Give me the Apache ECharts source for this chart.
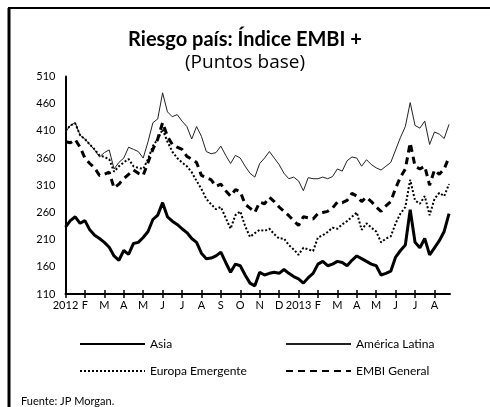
<!DOCTYPE html>
<html>
<head>
<meta charset="utf-8">
<script src="https://cdn.jsdelivr.net/npm/echarts@6/dist/echarts.min.js"></script>
<style>
  html, body { margin: 0; padding: 0; background: #fff; }
  #chart { width: 490px; height: 407px; }
</style>
</head>
<body>
<div id="chart"></div>
<script>
// etiquetas de meses (una por mes, desde ene 2012)
const monthLabels = ['2012', 'F', 'M', 'A', 'M', 'J', 'J', 'A', 'S', 'O', 'N', 'D',
  '2013', 'F', 'M', 'A', 'M', 'J', 'J', 'A']
const yTicks = [110, 160, 210, 260, 310, 360, 410, 460, 510]
// un punto cada cuarto de mes
const step = 0.25

const asia = [233, 245, 252, 240, 245, 228, 218, 212, 205, 196, 180, 172, 190, 183, 203, 205,
  214, 225, 247, 255, 278, 252, 244, 238, 230, 223, 212, 205, 185, 175, 176, 180,
  187, 168, 150, 165, 162, 145, 130, 125, 150, 145, 148, 150, 148, 155, 148, 142,
  138, 130, 140, 148, 165, 170, 162, 165, 170, 168, 162, 172, 180, 175, 170, 165,
  162, 145, 148, 152, 178, 190, 200, 265, 205, 195, 212, 182, 195, 208, 225, 258]

const americaLatina = [408, 420, 425, 402, 395, 385, 375, 362, 370, 375, 340, 352, 360, 380, 376, 372,
  360, 390, 425, 432, 480, 445, 436, 440, 428, 418, 395, 418, 400, 372, 368, 370,
  382, 365, 350, 365, 360, 345, 332, 325, 350, 360, 372, 360, 348, 332, 322, 325,
  318, 300, 324, 322, 322, 325, 322, 326, 340, 336, 355, 362, 360, 345, 357, 348,
  342, 338, 345, 352, 375, 398, 418, 462, 420, 415, 428, 385, 408, 404, 396, 422]

const europaEmergente = [410, 420, 424, 402, 395, 385, 376, 365, 362, 358, 335, 345, 352, 358, 345, 342,
  340, 358, 382, 395, 413, 390, 372, 360, 352, 345, 334, 318, 303, 285, 275, 266,
  270, 250, 230, 255, 262, 235, 215, 222, 228, 226, 230, 220, 212, 212, 200, 192,
  182, 195, 192, 189, 214, 218, 224, 232, 230, 238, 244, 252, 260, 228, 240, 232,
  225, 205, 212, 216, 240, 258, 270, 320, 282, 276, 290, 255, 285, 296, 290, 312]

const embiGeneral = [390, 388, 394, 380, 360, 350, 342, 328, 330, 334, 305, 312, 322, 330, 338, 332,
  328, 352, 376, 395, 425, 400, 385, 380, 376, 363, 358, 352, 328, 324, 320, 308,
  312, 300, 290, 302, 298, 275, 268, 260, 279, 276, 288, 280, 270, 262, 254, 245,
  236, 252, 250, 248, 258, 260, 262, 268, 279, 278, 282, 295, 290, 280, 288, 280,
  270, 262, 272, 280, 305, 325, 340, 388, 345, 340, 345, 310, 338, 330, 340, 362]

const toPoints = (arr) => arr.map((v, i) => [i * step, v])

const font = 'Lato'
const chart = echarts.init(document.getElementById('chart'))

const legendAt = (name, left, top) => ({
  data: [name],
  left: left,
  top: top,
  itemWidth: 65,
  itemHeight: 14,
  itemGap: 0,
  selectedMode: false,
  textStyle: { fontFamily: font, fontSize: 12, color: '#000' }
})

let option = {
  animation: false,
  backgroundColor: '#fff',
  title: [
    {
      text: 'Riesgo país: Índice EMBI +',
      left: 'center',
      top: 25,
      textStyle: { fontFamily: font, fontSize: 20, fontWeight: 'bold', color: '#000' }
    },
    {
      text: '(Puntos base)',
      left: 'center',
      top: 48,
      textStyle: { fontFamily: 'Open Sans', fontSize: 19, fontWeight: 'normal', color: '#000' }
    },
    {
      text: 'Fuente: JP Morgan.',
      left: 16,
      top: 391,
      textStyle: { fontFamily: font, fontSize: 11, fontWeight: 'normal', color: '#000' }
    }
  ],
  legend: [
    legendAt('Asia', 74, 333),
    legendAt('América Latina', 280, 333),
    legendAt('Europa Emergente', 74, 360),
    legendAt('EMBI General', 280, 360)
  ],
  grid: { left: 65.5, right: 40, top: 76.5, bottom: 113 },
  xAxis: [
    {
      type: 'value',
      min: 0,
      max: 19.8,
      axisLine: { lineStyle: { color: '#000', width: 2 } },
      axisTick: { length: 4, customValues: monthLabels.map((_, i) => i), lineStyle: { color: '#000', width: 1.5 } },
      axisLabel: {
        customValues: monthLabels.map((_, i) => i),
        formatter: (v) => monthLabels[Math.round(v)],
        fontFamily: font, fontSize: 11, color: '#000', margin: 6
      },
      splitLine: { show: false }
    },
    {
      type: 'value',
      min: 0,
      max: 19.8,
      position: 'bottom',
      axisLine: { show: false },
      axisTick: { inside: true, length: 4, customValues: monthLabels.map((_, i) => i), lineStyle: { color: '#000', width: 1.5 } },
      axisLabel: { show: false },
      splitLine: { show: false }
    }
  ],
  yAxis: {
    type: 'value',
    min: 110,
    max: 510,
    axisLine: { show: true, lineStyle: { color: '#000', width: 2 } },
    axisTick: { show: false },
    axisLabel: { customValues: yTicks, fontFamily: font, fontSize: 11, color: '#000', margin: 10 },
    splitLine: { show: false }
  },
  series: [
    {
      name: 'Asia',
      type: 'line',
      symbol: 'none',
      data: toPoints(asia),
      lineStyle: { color: '#000', width: 3 },
      itemStyle: { color: '#000', opacity: 0 }
    },
    {
      name: 'América Latina',
      type: 'line',
      symbol: 'none',
      data: toPoints(americaLatina),
      lineStyle: { color: '#222', width: 1 },
      itemStyle: { color: '#222', opacity: 0 }
    },
    {
      name: 'Europa Emergente',
      type: 'line',
      symbol: 'none',
      data: toPoints(europaEmergente),
      lineStyle: { color: '#000', width: 2, type: [2, 2] },
      itemStyle: { color: '#000', opacity: 0 }
    },
    {
      name: 'EMBI General',
      type: 'line',
      symbol: 'none',
      data: toPoints(embiGeneral),
      lineStyle: { color: '#000', width: 3, type: [7, 5] },
      itemStyle: { color: '#000', opacity: 0 }
    }
  ],
  graphic: [
    { type: 'line', shape: { x1: 8, y1: 8, x2: 490, y2: 8 }, style: { stroke: '#000', lineWidth: 2 } },
    { type: 'line', shape: { x1: 9, y1: 8, x2: 9, y2: 407 }, style: { stroke: '#000', lineWidth: 3 } }
  ]
}
chart.setOption(option)
</script>
</body>
</html>
